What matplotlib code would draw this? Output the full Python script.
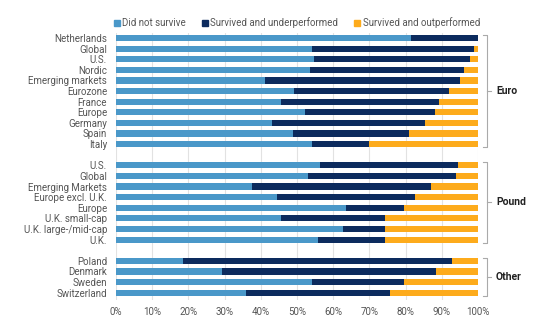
import matplotlib.pyplot as plt
from matplotlib.patches import Patch

plt.rcParams['font.family'] = ['Roboto', 'DejaVu Sans']

# categories per group, top to bottom
euro_labels = ['Netherlands', 'Global', 'U.S.', 'Nordic', 'Emerging markets', 'Eurozone',
               'France', 'Europe', 'Germany', 'Spain', 'Italy']
pound_labels = ['U.S.', 'Global', 'Emerging Markets', 'Europe excl. U.K.', 'Europe',
                'U.K. small-cap', 'U.K. large-/mid-cap', 'U.K.']
other_labels = ['Poland', 'Denmark', 'Sweden', 'Switzerland']

# share that did not survive (%)
euro_dead = [81.5, 54.1, 54.8, 53.6, 41.2, 49.3, 45.5, 52.2, 43.0, 49.0, 54.1]
pound_dead = [56.4, 53.1, 37.7, 44.4, 63.5, 45.6, 62.8, 55.8]
other_dead = [18.4, 29.3, 54.2, 35.9]

# survived and underperformed (%)
euro_under = [18.5, 44.7, 43.0, 42.6, 53.9, 42.8, 43.7, 36.0, 42.3, 31.9, 15.8]
pound_under = [38.2, 40.8, 49.3, 38.2, 16.1, 28.8, 11.6, 18.6]
other_under = [74.3, 59.0, 25.5, 39.9]

groups = ['Euro', 'Pound', 'Other']

c_dead = '#4a98c9'
c_under = '#0c2b5e'
c_out = '#fdab1c'
txt = '#555555'

labels, dead, under, ypos, spans = [], [], [], [], []
y = 0
for labs, d, u in [(euro_labels, euro_dead, euro_under),
                   (pound_labels, pound_dead, pound_under),
                   (other_labels, other_dead, other_under)]:
    start = y
    for lab, dv, uv in zip(labs, d, u):
        labels.append(lab)
        dead.append(dv)
        under.append(uv)
        ypos.append(y)
        y += 1
    spans.append((start, y - 1))
    y += 1  # empty slot between groups

out = [100 - a - b for a, b in zip(dead, under)]
left2 = [a + b for a, b in zip(dead, under)]

fig = plt.figure(figsize=(5.5, 3.3), dpi=100)
ax = fig.add_axes([0.211, 0.091, 0.658, 0.809])

h = 0.58
ax.barh(ypos, dead, height=h, color=c_dead, zorder=2)
ax.barh(ypos, under, left=dead, height=h, color=c_under, zorder=2)
ax.barh(ypos, out, left=left2, height=h, color=c_out, zorder=2)

ax.set_xlim(0, 100)
ax.set_ylim(ypos[-1] + 0.69, -0.47)
ax.set_yticks(ypos)
ax.set_yticklabels(labels, fontsize=7, color=txt)
ax.set_xticks(range(0, 101, 10))
ax.set_xticklabels([f'{v}%' for v in range(0, 101, 10)], fontsize=7, color=txt)
ax.tick_params(length=0)
ax.tick_params(axis='y', pad=6.5)
ax.tick_params(axis='x', pad=5)
ax.grid(axis='x', color='#e2e2e2', linewidth=0.8, zorder=0)
for s in ax.spines.values():
    s.set_visible(False)

# group brackets on the right
tr = ax.get_yaxis_transform()
for name, (a, b) in zip(groups, spans):
    top, bot = a - 0.3, b + 0.3
    ax.plot([1.013, 1.024, 1.024, 1.013], [top, top, bot, bot], transform=tr,
            color='#aaaaaa', lw=0.8, clip_on=False)
    mid = (top + bot) / 2
    ax.plot([1.024, 1.036], [mid, mid], transform=tr, color='#aaaaaa', lw=0.8, clip_on=False)
    ax.text(1.05, mid, name, transform=tr, fontsize=7.5, fontweight='bold',
            color='#222222', va='center', ha='left')

handles = [Patch(color=c_dead, label='Did not survive'),
           Patch(color=c_under, label='Survived and underperformed'),
           Patch(color=c_out, label='Survived and outperformed')]
leg = ax.legend(handles=handles, ncol=3, loc='lower left', bbox_to_anchor=(-0.02, 1.0),
                frameon=False, fontsize=7, handlelength=0.6, handleheight=0.6,
                handletextpad=0.3, columnspacing=1.6, borderaxespad=0.1)
for t in leg.get_texts():
    t.set_color(txt)

plt.savefig('out.png', dpi=100)
plt.close()
